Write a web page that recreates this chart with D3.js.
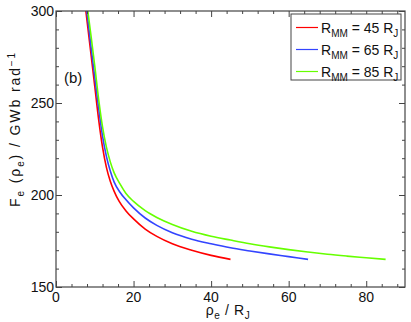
<!DOCTYPE html>
<html>
<head>
<meta charset="utf-8">
<script src="https://cdn.jsdelivr.net/npm/d3@7"></script>
<style>
  body { margin: 0; background: #fff; }
  svg text { font-family: "Liberation Sans", Arial, sans-serif; fill: #111; }
</style>
</head>
<body>
<svg id="chart" width="411" height="322"></svg>
<script>
// curve data: rho_e (R_J) vs F_e (GWb/rad)
var rhoRed   = [7.7, 9, 10, 11, 12, 13, 14, 15, 16.3, 18, 20, 23, 26, 30, 35, 40, 45];
var fRed     = [300, 277, 259, 241, 226, 215, 207.5, 202, 196.5, 191.5, 187, 181.5, 177.5, 173.5, 170, 167.2, 165];
var rhoBlue  = [7.95, 9, 10, 11, 12, 13, 14, 15, 16.5, 18, 20, 23, 26, 30, 35, 40, 45, 50, 55, 60, 65];
var fBlue    = [300, 281, 264, 247, 232, 221, 213, 207, 201.5, 197.5, 193, 187.5, 183.5, 179.5, 176, 173.5, 171.3, 169.6, 168, 166.5, 165];
var rhoGreen = [8.2, 9, 10, 11, 12, 13, 14, 15, 16.5, 18, 20, 23, 26, 30, 35, 40, 45, 50, 55, 60, 65, 70, 75, 80, 85];
var fGreen   = [300, 287, 270, 252, 237, 226, 218, 212, 206, 201, 196.5, 191.5, 187.8, 184, 180.3, 177.6, 175.5, 173.5, 171.8, 170.3, 169, 167.8, 166.8, 165.9, 165];

var seriesNames  = ["45", "65", "85"];
var seriesColors = ["#ff0000", "#3344ff", "#66ff00"];

var xTicks = [0, 20, 40, 60, 80];
var yTicks = [150, 200, 250, 300];

var series = [
  { name: seriesNames[0], color: seriesColors[0], x: rhoRed,   y: fRed },
  { name: seriesNames[1], color: seriesColors[1], x: rhoBlue,  y: fBlue },
  { name: seriesNames[2], color: seriesColors[2], x: rhoGreen, y: fGreen }
];

// plot box (note: "top" is taken by window.top)
var pLeft = 56, pRight = 405, pTop = 11, pBottom = 287;

var svg = d3.select("#chart");

var x = d3.scaleLinear().domain([0, 90]).range([pLeft, pRight]);
var y = d3.scaleLinear().domain([150, 300]).range([pBottom, pTop]);

var axisCol = "#444";

// clip for curves
svg.append("clipPath").attr("id", "clip")
  .append("rect")
  .attr("x", pLeft).attr("y", pTop)
  .attr("width", pRight - pLeft).attr("height", pBottom - pTop);

// curves
var line = d3.line()
  .x(function(d) { return x(d[0]); })
  .y(function(d) { return y(d[1]); })
  .curve(d3.curveMonotoneX);

svg.append("g").attr("clip-path", "url(#clip)")
  .selectAll("path")
  .data(series)
  .enter()
  .append("path")
  .attr("d", function(s) { return line(d3.zip(s.x, s.y)); })
  .attr("fill", "none")
  .attr("stroke", function(s) { return s.color; })
  .attr("stroke-width", 1.6);

// frame
svg.append("rect")
  .attr("x", pLeft).attr("y", pTop)
  .attr("width", pRight - pLeft).attr("height", pBottom - pTop)
  .attr("fill", "none")
  .attr("stroke", axisCol)
  .attr("stroke-width", 1.2);

// ticks: inward on all sides, majors and minors
var xMinor = d3.range(0, 91, 4).filter(function(v) { return v % 20 != 0; });
var yMinor = d3.range(150, 301, 10).filter(function(v) { return v % 50 != 0; });

var ax = svg.append("g");
ax.append("g").attr("transform", "translate(0," + pBottom + ")")
  .call(d3.axisBottom(x).tickValues(xTicks).tickSize(-6).tickFormat(""));
ax.append("g").attr("transform", "translate(0," + pBottom + ")")
  .call(d3.axisBottom(x).tickValues(xMinor).tickSize(-3).tickFormat(""));
ax.append("g").attr("transform", "translate(0," + pTop + ")")
  .call(d3.axisTop(x).tickValues(xTicks).tickSize(-6).tickFormat(""));
ax.append("g").attr("transform", "translate(0," + pTop + ")")
  .call(d3.axisTop(x).tickValues(xMinor).tickSize(-3).tickFormat(""));
ax.append("g").attr("transform", "translate(" + pLeft + ",0)")
  .call(d3.axisLeft(y).tickValues(yTicks).tickSize(-6).tickFormat(""));
ax.append("g").attr("transform", "translate(" + pLeft + ",0)")
  .call(d3.axisLeft(y).tickValues(yMinor).tickSize(-3).tickFormat(""));
ax.append("g").attr("transform", "translate(" + pRight + ",0)")
  .call(d3.axisRight(y).tickValues(yTicks).tickSize(-6).tickFormat(""));
ax.append("g").attr("transform", "translate(" + pRight + ",0)")
  .call(d3.axisRight(y).tickValues(yMinor).tickSize(-3).tickFormat(""));
ax.selectAll(".domain").remove();
ax.selectAll(".tick line").attr("stroke", axisCol);

// tick labels
svg.append("g").selectAll("text")
  .data(xTicks).enter().append("text")
  .attr("x", function(d) { return x(d); })
  .attr("y", pBottom + 15)
  .attr("text-anchor", "middle")
  .style("font-size", "14px")
  .text(function(d) { return d; });

svg.append("g").selectAll("text")
  .data(yTicks).enter().append("text")
  .attr("x", pLeft - 2)
  .attr("y", function(d) { return y(d) + 5; })
  .attr("text-anchor", "end")
  .style("font-size", "14px")
  .text(function(d) { return d; });

// axis titles
var xt = svg.append("text")
  .attr("x", 228).attr("y", 315)
  .attr("text-anchor", "middle")
  .style("font-size", "14px")
  .style("letter-spacing", "0.6px");
xt.append("tspan").text("\u03c1");
xt.append("tspan").attr("dy", 4).style("font-size", "10px").text("e");
xt.append("tspan").attr("dy", -4).text(" / R");
xt.append("tspan").attr("dy", 4).style("font-size", "10px").text("J");

var yt = svg.append("text")
  .attr("transform", "translate(20,207) rotate(-90)")
  .attr("text-anchor", "start")
  .style("font-size", "14px")
  .style("letter-spacing", "1.9px");
yt.append("tspan").text("F");
yt.append("tspan").attr("dy", 4).style("font-size", "10px").text("e");
yt.append("tspan").attr("dy", -4).text("  (\u03c1");
yt.append("tspan").attr("dy", 4).style("font-size", "10px").text("e");
yt.append("tspan").attr("dy", -4).text(")  /  GWb  rad");
yt.append("tspan").attr("dy", -5).style("font-size", "10px").text("\u22121");

// panel label
svg.append("text")
  .attr("x", 64).attr("y", 83)
  .style("font-size", "15px")
  .text("(b)");

// legend
var lg = svg.append("g");
lg.append("rect")
  .attr("x", 291).attr("y", 14)
  .attr("width", 110).attr("height", 66)
  .attr("fill", "#fff")
  .attr("stroke", axisCol)
  .attr("stroke-width", 1);

var rows = lg.selectAll("g.row")
  .data(series).enter().append("g")
  .attr("class", "row")
  .attr("transform", function(d, i) { return "translate(0," + (27.5 + i * 22) + ")"; });

rows.append("line")
  .attr("x1", 296).attr("x2", 318)
  .attr("y1", 0).attr("y2", 0)
  .attr("stroke", function(d) { return d.color; })
  .attr("stroke-width", 1.2);

var lt = rows.append("text")
  .attr("x", 321).attr("y", 5)
  .style("font-size", "14px");
lt.append("tspan").text("R");
lt.append("tspan").attr("dy", 4).style("font-size", "10px").text("MM");
lt.append("tspan").attr("dy", -4).text(function(d) { return " = " + d.name + " R"; });
lt.append("tspan").attr("dy", 4).style("font-size", "10px").text("J");
</script>
</body>
</html>
